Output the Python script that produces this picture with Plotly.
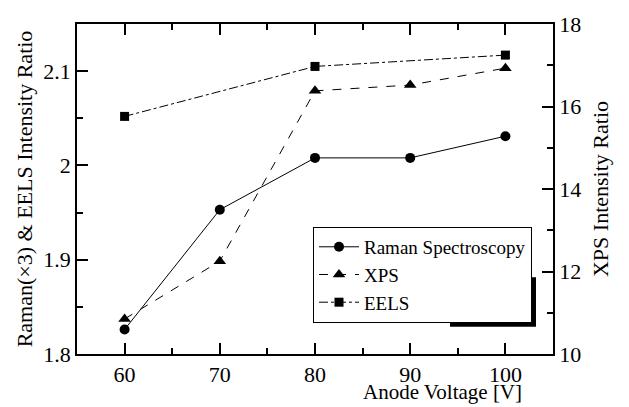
import plotly.graph_objects as go

voltage = [60, 70, 80, 90, 100]
raman = [1.826, 1.953, 2.008, 2.008, 2.031]
eels_x = [60, 80, 100]
eels = [2.052, 2.105, 2.117]
xps = [10.85, 12.25, 16.38, 16.52, 16.93]

left_ticks = [1.8, 1.9, 2.0, 2.1]
left_ticktext = ["1.8", "1.9", "2", "2.1"]
right_ticks = [10, 12, 14, 16, 18]
x_ticks = [60, 70, 80, 90, 100]

FONT = "Liberation Serif"
fig = go.Figure()
fig.add_trace(go.Scatter(x=voltage, y=raman, name="Raman Spectroscopy", mode="lines+markers",
                         line=dict(color="black", width=1, dash="solid"),
                         marker=dict(symbol="circle", size=10, color="black")))
fig.add_trace(go.Scatter(x=voltage, y=xps, name="XPS", mode="lines+markers", yaxis="y2",
                         line=dict(color="black", width=1, dash="dash"),
                         marker=dict(symbol="triangle-up", size=11, color="black")))
fig.add_trace(go.Scatter(x=eels_x, y=eels, name="EELS", mode="lines+markers",
                         line=dict(color="black", width=1, dash="dashdot"),
                         marker=dict(symbol="square", size=9, color="black")))

L, R, T, B = 77, 76, 14, 53
W, H = 629, 407
pw, ph = W - L - R, H - T - B

def px(xp):
    return (xp - L) / pw

def py(yp):
    return (H - B - yp) / ph

axcommon = dict(showgrid=False, zeroline=False, showline=True, linecolor="black", linewidth=1.5,
                ticks="inside", tickcolor="black", tickwidth=1.5, ticklen=11,
                tickfont=dict(family=FONT, size=22, color="black"))

fig.update_layout(
    width=W, height=H,
    margin=dict(l=L, r=R, t=T, b=B),
    paper_bgcolor="white", plot_bgcolor="white",
    font=dict(family=FONT, size=21, color="black"),
    xaxis=dict(range=[55, 105], tickvals=x_ticks, mirror="ticks",
               minor=dict(dtick=5, tick0=55, ticks="inside", ticklen=6, tickcolor="black", tickwidth=1.5),
               **axcommon),
    yaxis=dict(range=[1.8, 2.15], tickvals=left_ticks, ticktext=left_ticktext,
               minor=dict(dtick=0.05, tick0=1.8, ticks="inside", ticklen=6, tickcolor="black", tickwidth=1.5),
               title=dict(text="Raman(\u00d73) & EELS Intensity Ratio", font=dict(family=FONT, size=22), standoff=5),
               **axcommon),
    yaxis2=dict(range=[10, 18], tickvals=right_ticks, overlaying="y", side="right",
                minor=dict(dtick=1, tick0=10, ticks="inside", ticklen=6, tickcolor="black", tickwidth=1.5),
                title=dict(text="XPS Intensity Ratio", font=dict(family=FONT, size=22), standoff=12),
                **axcommon),
    showlegend=True,
    legend=dict(x=px(532), y=py(322), xanchor="right", yanchor="bottom",
                bgcolor="white", bordercolor="black", borderwidth=1,
                font=dict(family=FONT, size=19, color="black"),
                tracegroupgap=0, itemwidth=40),
)

fig.add_annotation(text="Anode Voltage [V]", xref="paper", yref="paper",
                   x=px(524), y=py(393), xanchor="right", yanchor="middle",
                   showarrow=False, font=dict(family=FONT, size=21, color="black"))

fig.add_shape(type="rect", xref="paper", yref="paper",
              x0=px(450), x1=px(536), y0=py(326), y1=py(275),
              fillcolor="black", line=dict(width=0), layer="below")

fig.write_html("out.html")
